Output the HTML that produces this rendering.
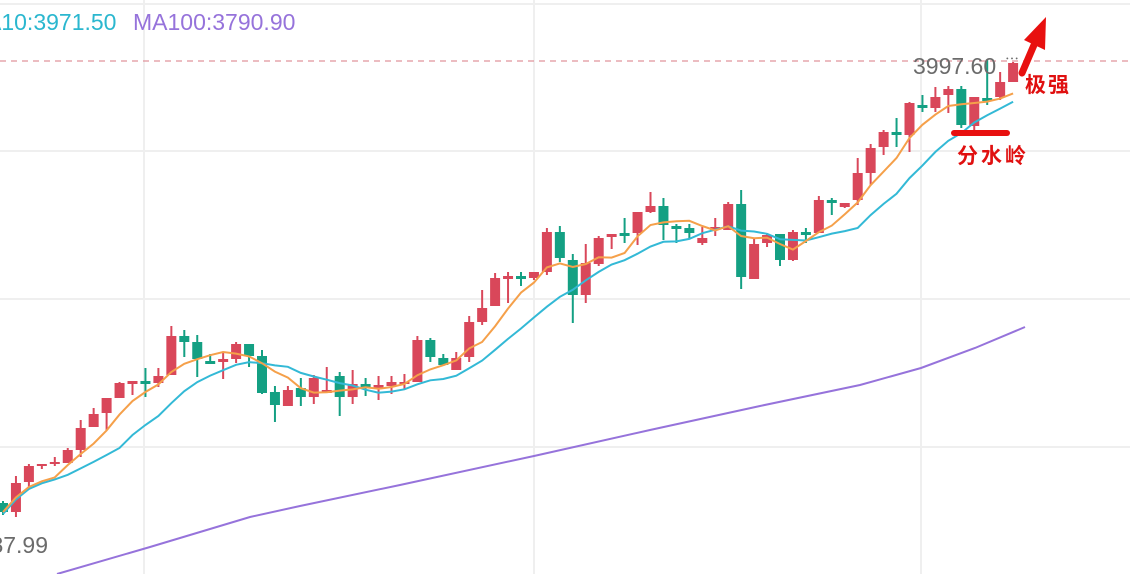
<!DOCTYPE html>
<html><head><meta charset="utf-8"><style>
html,body{margin:0;padding:0;background:#fff;width:1130px;height:574px;overflow:hidden}
svg{display:block}
text{font-family:"Liberation Sans","Noto Sans CJK SC",sans-serif}
</style></head><body>
<svg id="c" width="1130" height="574" viewBox="0 0 1130 574" xmlns="http://www.w3.org/2000/svg">
<g stroke="#efefef" stroke-width="2">
<line x1="0" y1="4" x2="1130" y2="4"/><line x1="0" y1="151" x2="1130" y2="151"/>
<line x1="0" y1="299" x2="1130" y2="299"/><line x1="0" y1="447" x2="1130" y2="447"/>
<line x1="144" y1="0" x2="144" y2="574"/><line x1="534" y1="0" x2="534" y2="574"/><line x1="921" y1="0" x2="921" y2="574"/>
</g>
<line x1="0" y1="61" x2="1130" y2="61" stroke="#e0939c" stroke-width="1.2" stroke-dasharray="6,5"/>
<polyline fill="none" stroke="#9673db" stroke-width="2" points="57,574 150,547 250,517 300,506 400,485 534,456 650,430 760,406 860,385 921,368 975,348 1025,327"/>
<g id="cs"></g>
<text x="-14" y="30" font-size="23" fill="#2bb7cf">A10:3971.50</text>
<text x="133" y="30" font-size="23" fill="#9673db">MA100:3790.90</text>
<text x="913" y="74" font-size="23" fill="#6b6b6b">3997.60</text>
<text x="1005" y="64" font-size="14" fill="#6b6b6b">⋯</text>
<text x="48" y="553" font-size="23" fill="#6b6b6b" text-anchor="end">3787.99</text>
<line x1="1022" y1="73" x2="1037" y2="38" stroke="#e8100f" stroke-width="7" stroke-linecap="round"/>
<polygon points="1046,17 1045,50 1024,40" fill="#e8100f"/>
<text x="1025" y="92" font-size="21" font-weight="bold" fill="#e01010" font-family="Liberation Serif,'Noto Serif CJK SC',serif" letter-spacing="2">极强</text>
<line x1="954" y1="133" x2="1007" y2="133" stroke="#e8100f" stroke-width="6" stroke-linecap="round"/>
<text x="957" y="163" font-size="21" font-weight="bold" fill="#e01010" font-family="Liberation Serif,'Noto Serif CJK SC',serif" letter-spacing="3">分水岭</text>
</svg>
<script>
var d=[[503,512,501,515],[512,483,476,517],[482,466,464,487],[466,464,464,469],[464,462,457,466],[463,450,448,463],[450,428,420,457],[427,414,408,427],[413,398,398,430],[398,383,382,398],
[383,382,382,395],[382,383,368,397],[383,376,368,387],[375,336,326,375],[336,342,330,357],[342,359,335,377],[362,363,354,364],[361,360,352,379],[359,344,342,363],[344,356,344,367],
[356,393,350,394],[392,405,386,422],[406,390,386,406],[388,397,378,406],[397,378,375,404],[392,391,367,392],[376,397,372,416],[397,384,370,404],[385,386,378,396],[387,386,376,400],
[386,382,376,394],[384,382,374,389],[382,340,336,382],[340,357,338,362],[358,365,354,366],[370,358,352,370],[357,322,316,362],[322,308,290,325],[306,278,273,306],[278,277,272,303],
[277,278,272,286],[278,272,272,280],[272,232,228,275],[232,258,226,262],[260,295,254,323],[295,263,244,303],[264,238,236,266],[237,234,234,249],[234,235,218,243],[233,212,212,245],
[212,206,192,213],[206,225,198,240],[227,228,224,243],[228,233,224,239],[243,238,227,245],[229,228,218,236],[230,204,202,230],[204,277,190,289],[279,244,238,279],[243,235,233,247],
[234,260,234,266],[260,232,230,261],[233,234,228,243],[233,200,196,233],[201,202,198,215],[207,203,203,208],[200,173,158,205],[173,148,144,185],[147,132,130,155],[133,134,118,147],
[135,103,102,152],[106,107,95,112],[108,97,87,112],[95,89,86,113],[89,125,86,128],[126,97,97,132],[99,100,60,105],[97,82,72,100],[82,63,62,82]];
var s='',R='#d9475a',G='#14a083';
function x(i){return 3+12.95*i}
var c=d.map(function(a){return a[1]});
function ma(n,o){var p=[];for(var i=0;i<c.length;i++){var a=Math.max(0,i-n+1),t=0;for(var j=a;j<=i;j++)t+=c[j];var v=t/(i-a+1)+o;p.push(x(i).toFixed(1)+','+v.toFixed(1))}return p.join(' ')}
for(var i=0;i<d.length;i++){var a=d[i],col=a[1]<=a[0]?R:G,cx=x(i),t=Math.min(a[0],a[1]),b=Math.max(a[0],a[1]);if(b-t<2){t-=1;b+=1}
s+='<line x1="'+cx+'" y1="'+a[2]+'" x2="'+cx+'" y2="'+a[3]+'" stroke="'+col+'" stroke-width="2"/>';
s+='<rect x="'+(cx-5)+'" y="'+t+'" width="10" height="'+(b-t)+'" fill="'+col+'"/>';}
s+='<polyline fill="none" stroke="#33b9d6" stroke-width="2" points="'+ma(10,2)+'"/>';
s+='<polyline fill="none" stroke="#f5a04a" stroke-width="2" points="'+ma(5,0)+'"/>';
document.getElementById('cs').innerHTML=s;
</script>
</body></html>
